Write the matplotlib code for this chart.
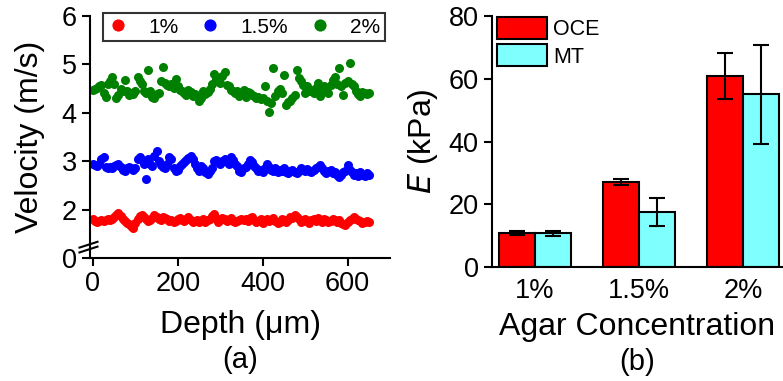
import numpy as np
import matplotlib.pyplot as plt

plt.rcParams['font.family'] = ['Liberation Sans', 'DejaVu Sans']

# ---- panel (a): velocity vs depth ----
depth = np.arange(0, 651, 5)

vel_1 = [1.81, 1.76, 1.74, 1.76, 1.78, 1.77, 1.78, 1.80, 1.78, 1.80, 1.84, 1.88, 1.94, 1.86,
         1.80, 1.76, 1.72, 1.70, 1.66, 1.63, 1.72, 1.80, 1.86, 1.88, 1.84, 1.80, 1.76, 1.78,
         1.82, 1.88, 1.85, 1.80, 1.78, 1.84, 1.82, 1.80, 1.76, 1.78, 1.74, 1.77, 1.80, 1.82,
         1.78, 1.76, 1.80, 1.84, 1.78, 1.74, 1.76, 1.78, 1.74, 1.76, 1.80, 1.75, 1.78, 1.80,
         1.86, 1.90, 1.82, 1.74, 1.78, 1.82, 1.80, 1.76, 1.78, 1.82, 1.77, 1.74, 1.76, 1.78,
         1.80, 1.78, 1.80, 1.76, 1.82, 1.84, 1.78, 1.74, 1.76, 1.80, 1.72, 1.78, 1.80, 1.76,
         1.78, 1.82, 1.76, 1.72, 1.75, 1.80, 1.78, 1.74, 1.78, 1.84, 1.82, 1.88, 1.85, 1.80,
         1.74, 1.76, 1.80, 1.76, 1.72, 1.78, 1.80, 1.76, 1.82, 1.78, 1.74, 1.80, 1.78, 1.74,
         1.76, 1.80, 1.78, 1.75, 1.78, 1.72, 1.70, 1.68, 1.74, 1.78, 1.80, 1.84, 1.80, 1.78,
         1.76, 1.72, 1.74, 1.76, 1.74]

vel_15 = [2.95, 2.92, 2.90, 2.95, 3.05, 3.08, 2.88, 2.85, 2.88, 2.85, 2.90, 2.92, 2.95, 2.87,
          2.82, 2.80, 2.85, 2.88, 2.85, 2.82, 2.85, 3.05, 3.08, 3.02, 2.95, 2.64, 3.05, 2.95,
          2.90, 3.10, 3.22, 3.00, 2.92, 2.88, 2.85, 2.95, 3.08, 3.05, 2.85, 2.80, 2.82, 2.90,
          2.95, 2.98, 3.02, 3.06, 3.10, 3.05, 2.95, 2.85, 2.80, 2.90, 2.85, 2.78, 2.74, 2.80,
          2.85, 3.00, 3.02, 2.98, 2.95, 3.00, 3.05, 2.98, 2.95, 3.08, 3.02, 2.95, 2.90, 2.80,
          2.78, 2.85, 2.88, 2.95, 3.02, 2.98, 2.90, 2.85, 2.80, 2.82, 2.78, 2.85, 2.95, 2.88,
          2.82, 2.80, 2.85, 2.78, 2.82, 2.80, 2.85, 2.78, 2.75, 2.80, 2.82, 2.78, 2.75, 2.80,
          2.86, 2.82, 2.80, 2.84, 2.80, 2.78, 2.82, 2.85, 2.88, 2.92, 2.85, 2.80, 2.76, 2.80,
          2.82, 2.75, 2.78, 2.72, 2.68, 2.72, 2.78, 2.80, 2.92, 2.82, 2.78, 2.72, 2.75, 2.70,
          2.78, 2.72, 2.70, 2.75, 2.72]

vel_2 = [4.47, 4.50, 4.52, 4.56, 4.58, 4.40, 4.33, 4.60, 4.65, 4.74, 4.60, 4.31, 4.36, 4.50,
         4.46, 4.67, 4.45, 4.37, 4.40, 4.38, 4.45, 4.74, 4.66, 4.60, 4.45, 4.40, 4.88, 4.45,
         4.33, 4.31, 4.38, 4.40, 4.65, 4.95, 4.62, 4.58, 4.55, 4.60, 4.52, 4.70, 4.55, 4.48,
         4.45, 4.40, 4.36, 4.48, 4.42, 4.35, 4.38, 4.33, 4.25, 4.30, 4.45, 4.38, 4.42, 4.50,
         4.60, 4.81, 4.70, 4.65, 4.62, 4.75, 4.85, 4.58, 4.55, 4.48, 4.46, 4.40, 4.45, 4.35,
         4.38, 4.48, 4.33, 4.42, 4.40, 4.36, 4.35, 4.30, 4.33, 4.28, 4.30, 4.55, 4.25, 4.02,
         4.20, 4.92, 4.35, 4.45, 4.50, 4.40, 4.78, 4.16, 4.22, 4.25, 4.30, 4.36, 4.88, 4.72,
         4.66, 4.58, 4.40, 4.55, 4.45, 4.48, 4.40, 4.52, 4.62, 4.35, 4.45, 4.55, 4.48, 4.40,
         4.58, 4.68, 4.74, 4.60, 4.92, 4.55, 4.37, 4.62, 4.65, 5.02, 4.60, 4.55, 4.45, 4.38,
         4.34, 4.42, 4.40, 4.38, 4.40]

# ---- panel (b): Young's modulus ----
conc = ['1%', '1.5%', '2%']
oce_mean = [10.8, 27.1, 60.9]
oce_err = [0.7, 1.0, 7.4]
mt_mean = [10.7, 17.5, 55.0]
mt_err = [0.8, 4.5, 15.8]

W, H = 783, 381
fig = plt.figure(figsize=(W / 100, H / 100), dpi=100)

ax1 = fig.add_axes([90 / W, 1 - 258 / H, 300 / W, 242 / H])
ax1.plot(depth, vel_1, 'o', color='#ff0000', ms=6.5, mec='none', label='1%')
ax1.plot(depth, vel_15, 'o', color='#0000ff', ms=6.5, mec='none', label='1.5%')
ax1.plot(depth, vel_2, 'o', color='#008000', ms=6.5, mec='none', label='2%')
ax1.set_xlim(-7, 700)
ax1.set_ylim(1.0, 6.0)
ax1.set_xticks([0, 200, 400, 600])
ax1.set_yticks([1.0, 2, 3, 4, 5, 6])
ax1.set_yticklabels(['0', '2', '3', '4', '5', '6'])
ax1.set_xlabel('Depth (μm)', fontsize=23, labelpad=9)
ax1.set_ylabel('Velocity (m/s)', fontsize=23, labelpad=12)
# axis break marks
bx = [-0.035, 0.025]
for off in (0.035, 0.055):
    ax1.plot(bx, [off - 0.012, off + 0.012], color='black', lw=1.5,
             transform=ax1.transAxes, clip_on=False)
leg1 = ax1.legend(loc='upper left', bbox_to_anchor=(103 / W, 1 - 13 / H),
                  bbox_transform=fig.transFigure, borderaxespad=0, ncol=3, fontsize=15,
                  frameon=True, fancybox=False, edgecolor='black',
                  handletextpad=0.94, columnspacing=1.04, borderpad=0.22,
                  handlelength=1.0, markerscale=1.35)
leg1.get_frame().set_linewidth(1.5)

ax2 = fig.add_axes([492 / W, 1 - 267 / H, 291 / W, 251 / H])
x = np.arange(len(conc))
bw = 0.346
ax2.bar(x - bw / 2, oce_mean, bw, yerr=oce_err, color='#ff0000', edgecolor='black',
        linewidth=1.5, capsize=6, error_kw=dict(elinewidth=1.5, capthick=1.5), label='OCE')
ax2.bar(x + bw / 2, mt_mean, bw, yerr=mt_err, color='#80ffff', edgecolor='black',
        linewidth=1.5, capsize=6, error_kw=dict(elinewidth=1.5, capthick=1.5), label='MT')
ax2.set_xlim(-0.413, 2.385)
ax2.set_ylim(0, 80)
ax2.set_yticks([0, 20, 40, 60, 80])
ax2.set_xticks(x)
ax2.set_xticklabels(conc)
ax2.set_xlabel('Agar Concentration', fontsize=23, labelpad=6)
ax2.set_ylabel('$E$ (kPa)', fontsize=23, labelpad=6)
ax2.legend(loc='upper left', bbox_to_anchor=(495 / W, 1 - 15 / H),
           bbox_transform=fig.transFigure, borderaxespad=0, fontsize=15.5, frameon=False,
           handlelength=2.33, handleheight=1.16, handletextpad=0.28,
           labelspacing=0.2, borderpad=0.1)

for ax in (ax1, ax2):
    for s in ('top', 'right'):
        ax.spines[s].set_visible(False)
    for s in ('left', 'bottom'):
        ax.spines[s].set_linewidth(1.5)
    ax.tick_params(labelsize=19.5, width=1.5, length=6, direction='out')
ax2.tick_params(axis='x', length=0, pad=8)

fig.text(240 / W, 1 - 360 / H, '(a)', fontsize=21, ha='center', va='center')
fig.text(637 / W, 1 - 362 / H, '(b)', fontsize=21, ha='center', va='center')

fig.savefig('out.png', dpi=100)
